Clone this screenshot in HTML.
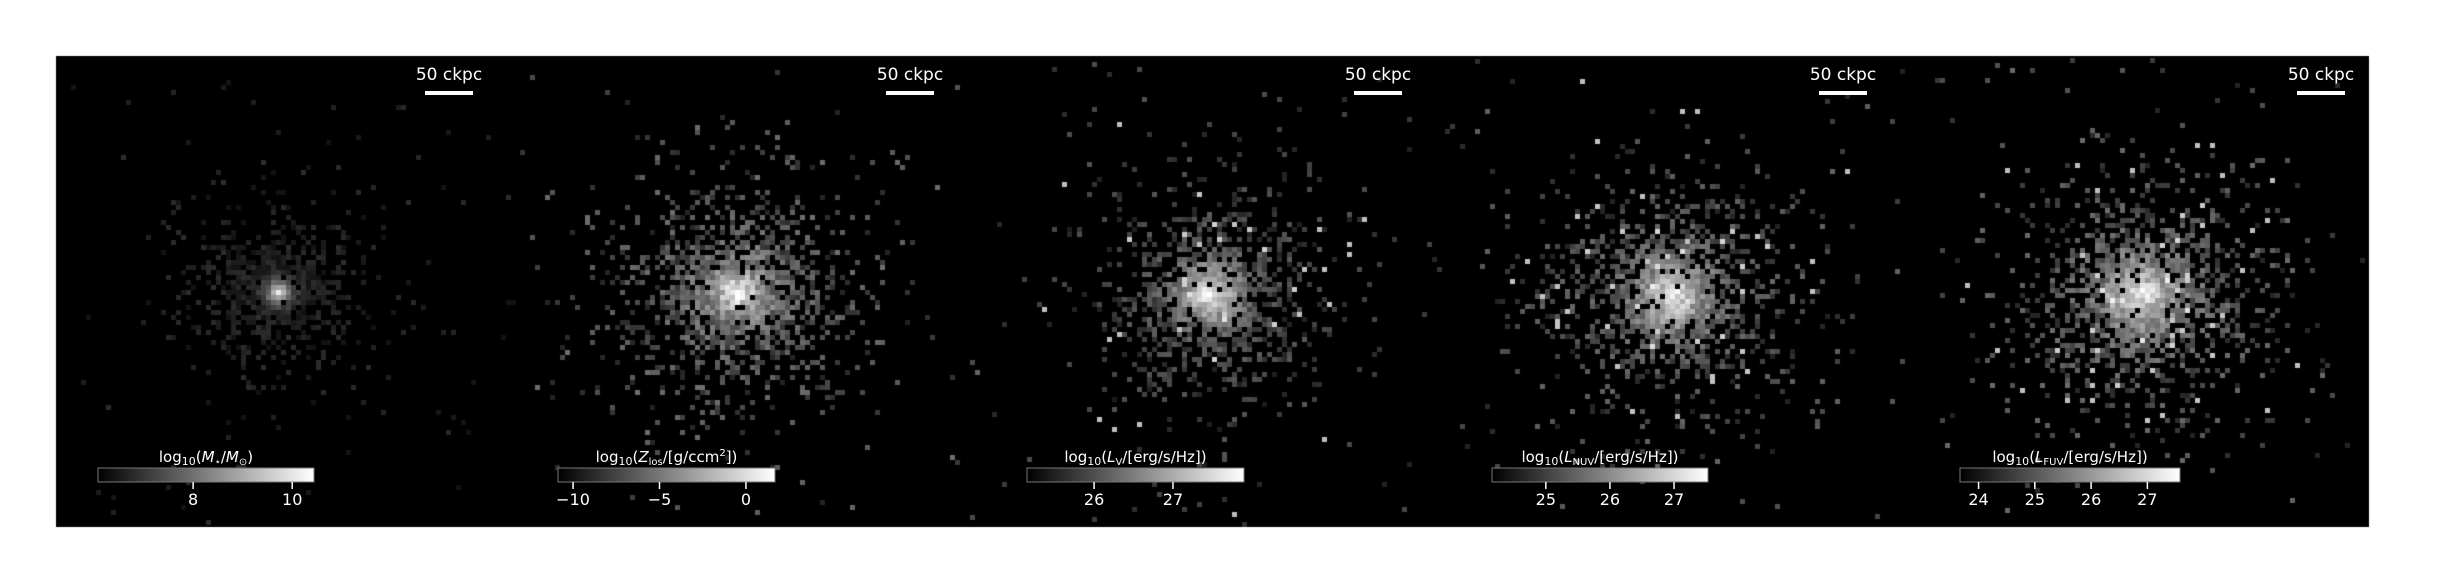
<!DOCTYPE html>
<html><head><meta charset="utf-8">
<style>
html,body{margin:0;padding:0;background:#fff;}
#wrap{position:relative;width:2444px;height:584px;overflow:hidden;background:#fff;}
canvas{position:absolute;left:0;top:0;}
svg{position:absolute;left:0;top:0;}
text{font-family:"DejaVu Sans","Liberation Sans",sans-serif;fill:#fff;}
</style></head>
<body>
<div id="wrap">
<canvas id="cv" width="2444" height="584"></canvas>
<svg id="ov" width="2444" height="584">
<defs><linearGradient id="gray" x1="0" x2="1"><stop offset="0" stop-color="#000"/><stop offset="1" stop-color="#fff"/></linearGradient></defs>
</svg>
</div>
<script>
// figure frame
const frameLeft = 56, frameTop = 56, frameRight = 2369, frameBottom = 527;
// panel data
const panelNames = ["stellar-mass","metallicity","v-band","nuv","fuv"];
const galaxyCenterX = [276, 735, 1207, 1670, 2140];
const galaxyCenterY = [290, 290, 292, 294, 293];
const peakBrightness = [255, 255, 250, 250, 245];
const coreScale = [10, 28, 30, 34, 36];
const haloGray = [35, 85, 70, 80, 85];
const haloRadius = [62, 80, 75, 82, 85];
const scaleBarCenter = [449, 910, 1378, 1843, 2321];
const cbarLeft = [98, 558, 1027, 1492, 1960];
const cbarRight = [314, 775, 1244, 1708, 2180];
const cbarMin = [6.08, -10.87, 25.15, 24.16, 23.67];
const cbarMax = [10.44, 1.68, 27.9, 27.53, 27.58];
const cbarTicks = [[8,10],[-10,-5,0],[26,27],[25,26,27],[24,25,26,27]];
const cbarTickLabels = [["8","10"],["\u221210","\u22125","0"],["26","27"],["25","26","27"],["24","25","26","27"]];
const cbarLabels = [
 'log<tspan font-size="11" dy="3">10</tspan><tspan dy="-3">(</tspan><tspan font-style="italic">M</tspan><tspan font-size="10" dy="3">\u22c6</tspan><tspan dy="-3">/</tspan><tspan font-style="italic">M</tspan><tspan font-size="10" dy="3">\u2299</tspan><tspan dy="-3">)</tspan>',
 'log<tspan font-size="11" dy="3">10</tspan><tspan dy="-3">(</tspan><tspan font-style="italic">Z</tspan><tspan font-size="10" dy="3">los</tspan><tspan dy="-3">/[g/ccm</tspan><tspan font-size="10" dy="-6">2</tspan><tspan dy="6">])</tspan>',
 'log<tspan font-size="11" dy="3">10</tspan><tspan dy="-3">(</tspan><tspan font-style="italic">L</tspan><tspan font-size="10" dy="3">V</tspan><tspan dy="-3">/[erg/s/Hz])</tspan>',
 'log<tspan font-size="11" dy="3">10</tspan><tspan dy="-3">(</tspan><tspan font-style="italic">L</tspan><tspan font-size="10" dy="3">NUV</tspan><tspan dy="-3">/[erg/s/Hz])</tspan>',
 'log<tspan font-size="11" dy="3">10</tspan><tspan dy="-3">(</tspan><tspan font-style="italic">L</tspan><tspan font-size="10" dy="3">FUV</tspan><tspan dy="-3">/[erg/s/Hz])</tspan>'
];

const cv = document.getElementById('cv');
const ctx = cv.getContext('2d');
ctx.fillStyle = '#000';
ctx.fillRect(frameLeft, frameTop, frameRight-frameLeft, frameBottom-frameTop);

function hash(a,b,c){let h=(a*374761393+b*668265263+c*2147483647)|0;h=(h^(h>>>13))*1274126177|0;h=h^(h>>>16);return (h>>>0)/4294967295;}
const cell = 5;
const panelW = (frameRight-frameLeft)/5;
for(let p=0;p<5;p++){
  const x0 = frameLeft + p*panelW, x1 = x0+panelW;
  const cx = galaxyCenterX[p], cy = galaxyCenterY[p];
  for(let gx=Math.floor((x0-cx)/cell); gx*cell+cx<x1; gx++){
    for(let gy=Math.floor((frameTop-cy)/cell); gy*cell+cy<frameBottom; gy++){
      const px = cx+gx*cell, py = cy+gy*cell;
      if(px<x0||px+cell>x1||py<frameTop||py+cell>frameBottom) continue;
      const r = Math.hypot(gx*cell, gy*cell*1.05);
      const occ = Math.exp(-Math.pow(r/haloRadius[p],2));
      const h1 = hash(gx+1000,gy+1000,p+1), h2 = hash(gy+500,gx+700,p+11);
      const outer = r<haloRadius[p]*2.4 ? 0.2*Math.exp(-r/(haloRadius[p]*1.3)) : 0.008;
      const sparse = h1 < outer + 0.8*occ;
      if(!sparse) continue;
      let v = haloGray[p]*(0.4+0.9*h2) + (peakBrightness[p]-haloGray[p])*Math.exp(-Math.pow(r/coreScale[p],1.3));
      if(p>=2 && h2>0.95) v = 190+60*h1;
      if(p===0) v = Math.min(v, 30+220*Math.exp(-r/coreScale[p]) + 25*h2);
      v = Math.max(18, Math.min(255, v));
      const g = Math.round(v);
      ctx.fillStyle = `rgb(${g},${g},${g})`;
      ctx.fillRect(px, py, cell, cell);
    }
  }
}

const svg = document.getElementById('ov');
const NS = 'http://www.w3.org/2000/svg';
function mk(tag, attrs, parent){const e=document.createElementNS(NS,tag);for(const k in attrs)e.setAttribute(k,attrs[k]);(parent||svg).appendChild(e);return e;}
for(let p=0;p<5;p++){
  const g = mk('g',{});
  
  
  const sc = scaleBarCenter[p];
  const st = mk('text',{x:sc,y:80,'font-size':17,'text-anchor':'middle'},g);
  st.textContent = '50 ckpc';
  
  
  const sb = mk('rect',{x:sc-24,y:91,width:48,height:4,fill:'#fff'},g);
  
  
  const L = cbarLeft[p], R = cbarRight[p];
  const cb = mk('rect',{x:L,y:468,width:R-L,height:14,fill:'url(#gray)',stroke:'#777','stroke-width':1},g);
  
  
  const lab = mk('text',{x:(L+R)/2,y:462,'font-size':15,'text-anchor':'middle'},g);
  lab.innerHTML = cbarLabels[p];
  
  
  const xs = v => L + (v-cbarMin[p])/(cbarMax[p]-cbarMin[p])*(R-L);
  cbarTicks[p].forEach((t,i)=>{
    const x = xs(t);
    const tk = mk('line',{x1:x,x2:x,y1:482,y2:489,stroke:'#fff','stroke-width':1.5},g);
    
    
    const tl = mk('text',{x:x,y:505,'font-size':16,'text-anchor':'middle'},g);
    tl.textContent = cbarTickLabels[p][i];
    
    
  });
}
</script>
</body></html>
